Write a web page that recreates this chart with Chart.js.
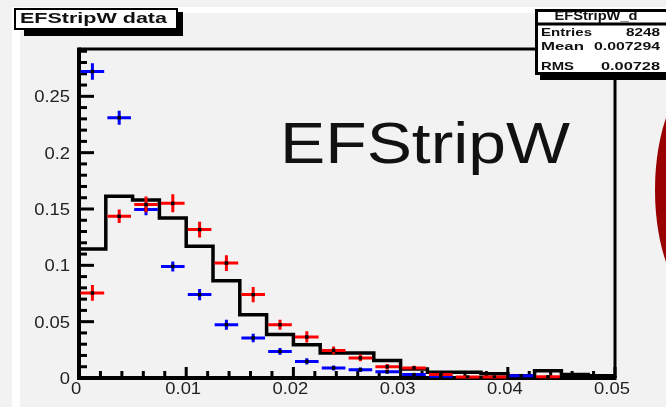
<!DOCTYPE html>
<html lang="en">
<head>
    <meta charset="UTF-8">
    <title>EFStripW</title>
    <script src="https://cdn.jsdelivr.net/npm/chart.js"></script>
    <style>
        body { margin: 0; background: #f2f2f2; }
        canvas { display: block; }
    </style>
</head>
<body>
    <canvas id="histo" width="666" height="407"></canvas>
    <script>
        // bin edges / centres of the 20 bins (width 0.0025)
        const binEdges = [0, 0.0025, 0.005, 0.0075, 0.01, 0.0125, 0.015, 0.0175, 0.02, 0.0225, 0.025,
                          0.0275, 0.03, 0.0325, 0.035, 0.0375, 0.04, 0.0425, 0.045, 0.0475, 0.05];
        const binCenters = [0.00125, 0.00375, 0.00625, 0.00875, 0.01125, 0.01375, 0.01625, 0.01875, 0.02125, 0.02375,
                            0.02625, 0.02875, 0.03125, 0.03375, 0.03625, 0.03875, 0.04125, 0.04375, 0.04625, 0.04875];

        // reference histogram (black steps)
        const refHist = [0.1146, 0.1613, 0.158, 0.142, 0.117, 0.0864, 0.0562, 0.0385, 0.0296, 0.0222,
                         0.0222, 0.0155, 0.008, 0.005, 0.005, 0.0038, 0.002, 0.0065, 0.003, 0.002];

        // blue points + errors
        const blueVals = [0.272, 0.231, 0.1495, 0.099, 0.074, 0.0473, 0.0355, 0.0236, 0.0147, 0.0089,
                          0.0074, 0.0056, 0.003, 0.0015, null, null, 0.002, null, null, null];
        const blueErr = [0.0074, 0.0062, 0.005, 0.0044, 0.005, 0.0045, 0.0038, 0.003, 0.0028, 0.0022,
                         0.002, 0.0018, 0.0015, 0.001, null, null, 0.001, null, null, null];

        // red points + errors
        const redVals = [0.0755, 0.1435, 0.154, 0.155, 0.1317, 0.102, 0.074, 0.0473, 0.0364, 0.0245,
                         0.0178, 0.010, 0.0089, 0.003, 0.0008, 0.0008, null, 0.001, null, null];
        const redErr = [0.007, 0.006, 0.007, 0.008, 0.007, 0.007, 0.0067, 0.0045, 0.005, 0.0035,
                        0.003, 0.0025, 0.002, 0.0015, 0.001, 0.001, null, 0.001, null, null];

        const halfBin = 0.0011; // drawn horizontal error

        const xTicks = [0, 0.01, 0.02, 0.03, 0.04, 0.05];
        const xTickLabels = ['0', '0.01', '0.02', '0.03', '0.04', '0.05'];
        const yTicks = [0, 0.05, 0.1, 0.15, 0.2, 0.25];
        const yTickLabels = ['0', '0.05', '0.1', '0.15', '0.2', '0.25'];

        const statsRows = [['Entries', '8248'], ['Mean', '0.007294'], ['RMS', '0.00728']];

        // draw text squeezed/stretched to a given width (the screenshot is wide)
        function fitText(ctx, txt, x, y, w, font, color, align) {
            ctx.save();
            ctx.font = font;
            ctx.fillStyle = color;
            ctx.textAlign = 'left';
            ctx.textBaseline = 'alphabetic';
            const m = ctx.measureText(txt).width;
            let left = x;
            if (align === 'center') left = x - w / 2;
            if (align === 'right') left = x - w;
            ctx.translate(left, y);
            ctx.scale(w / m, 1);
            ctx.fillText(txt, 0, 0);
            ctx.restore();
        }

        function stretchText(ctx, txt, x, y, font, sx, align) {
            ctx.save();
            ctx.font = font;
            const w = ctx.measureText(txt).width * sx;
            fitText(ctx, txt, x, y, w, font, '#222', align);
            ctx.restore();
        }

        const rootPlugin = {
            id: 'rootStyle',
            beforeDraw(chart) {
                const ctx = chart.ctx;
                ctx.save();
                ctx.fillStyle = '#f2f2f2';
                ctx.fillRect(0, 0, 666, 407);
                // white strips of the slide
                ctx.fillStyle = '#ffffff';
                ctx.fillRect(12, 7, 8, 400);
                ctx.fillRect(12, 7, 654, 6);
                // red decoration on the right edge
                ctx.fillStyle = '#990000';
                ctx.beginPath();
                ctx.ellipse(700, 190, 45, 110, 0, 0, Math.PI * 2);
                ctx.fill();
                ctx.restore();
                // big label
                fitText(ctx, 'EFStripW', 280, 163, 290, '57px "Liberation Sans", Arial, sans-serif', '#111', 'left');
            },
            beforeDatasetsDraw(chart) {
                const ctx = chart.ctx;
                const xs = chart.scales.x, ys = chart.scales.y;
                const a = chart.chartArea;
                ctx.save();
                ctx.strokeStyle = '#000';
                ctx.lineCap = 'butt';
                // frame top + right
                ctx.lineWidth = 3;
                ctx.beginPath();
                ctx.moveTo(a.left, a.top);
                ctx.lineTo(a.right, a.top);
                ctx.lineTo(a.right, a.bottom);
                ctx.stroke();
                // axes
                ctx.lineWidth = 4;
                ctx.beginPath();
                ctx.moveTo(a.left, a.top - 1.5);
                ctx.lineTo(a.left, a.bottom);
                ctx.lineTo(a.right + 1.5, a.bottom);
                ctx.stroke();
                // y ticks (inside)
                ctx.lineWidth = 3;
                for (let i = 0; i <= 29; i++) {
                    const v = i * 0.01;
                    const py = ys.getPixelForValue(v);
                    const len = (i % 5 === 0) ? 15 : 8;
                    ctx.beginPath();
                    ctx.moveTo(a.left, py);
                    ctx.lineTo(a.left + len, py);
                    ctx.stroke();
                }
                // x ticks (upwards)
                for (let i = 0; i <= 25; i++) {
                    const v = i * 0.002;
                    const px = xs.getPixelForValue(v);
                    const len = (i % 5 === 0) ? 11 : 7;
                    ctx.beginPath();
                    ctx.moveTo(px, a.bottom);
                    ctx.lineTo(px, a.bottom - len);
                    ctx.stroke();
                }
                ctx.restore();
                const tickFont = '16px "Liberation Sans", Arial, sans-serif';
                yTicks.forEach((v, i) => {
                    stretchText(ctx, yTickLabels[i], a.left - 9, ys.getPixelForValue(v) + 6, tickFont, 1.15, 'right');
                });
                xTicks.forEach((v, i) => {
                    stretchText(ctx, xTickLabels[i], xs.getPixelForValue(v) - 3, 394, tickFont, 1.15, 'center');
                });
            },
            beforeDatasetDraw(chart, args) {
                const ds = chart.data.datasets[args.index];
                if (!ds.errY) return;
                const ctx = chart.ctx;
                const xs = chart.scales.x, ys = chart.scales.y;
                ctx.save();
                ctx.strokeStyle = ds.barColor;
                ctx.lineWidth = 3;
                ds.data.forEach((p, i) => {
                    if (p.y === null) return;
                    const px = xs.getPixelForValue(p.x), py = ys.getPixelForValue(p.y);
                    ctx.beginPath();
                    ctx.moveTo(xs.getPixelForValue(p.x - halfBin), py);
                    ctx.lineTo(xs.getPixelForValue(p.x + halfBin), py);
                    const e = ds.errY[i];
                    if (e) {
                        ctx.moveTo(px, ys.getPixelForValue(p.y + e));
                        ctx.lineTo(px, ys.getPixelForValue(p.y - e));
                    }
                    ctx.stroke();
                });
                ctx.restore();
            },
            afterDraw(chart) {
                const ctx = chart.ctx;
                const bold = (s) => 'bold ' + s + 'px "Liberation Sans", Arial, sans-serif';
                ctx.save();
                // title box with shadow
                ctx.fillStyle = '#000';
                ctx.fillRect(24, 12, 159, 24);
                ctx.fillStyle = '#fff';
                ctx.fillRect(14, 8, 164, 22);
                ctx.strokeStyle = '#000';
                ctx.lineWidth = 2;
                ctx.strokeRect(15, 9, 162, 20);
                // stats box
                ctx.fillStyle = '#000';
                ctx.fillRect(540, 70, 130, 10);
                ctx.fillStyle = '#fff';
                ctx.fillRect(535, 9, 140, 65);
                ctx.lineWidth = 3;
                ctx.strokeRect(536.5, 10.5, 140, 63);
                ctx.beginPath();
                ctx.moveTo(536, 24);
                ctx.lineTo(666, 24);
                ctx.stroke();
                ctx.restore();
                fitText(ctx, 'EFStripW data', 20, 23, 147, bold(15), '#111', 'left');
                fitText(ctx, 'EFStripW_d', 596, 20, 83, bold(12), '#111', 'center');
                const rowY = [36, 50, 70];
                const labW = [51, 43, 33];
                const valW = [34, 66, 59];
                statsRows.forEach((r, i) => {
                    fitText(ctx, r[0], 541, rowY[i], labW[i], bold(11), '#111', 'left');
                    fitText(ctx, r[1], 660, rowY[i], valW[i], bold(11), '#111', 'right');
                });
            }
        };

        // stepped 'before': the value of each edge is held until the next edge
        const histPoints = binEdges.map((x, i) => ({ x: x, y: refHist[Math.min(i, refHist.length - 1)] }));
        const bluePoints = binCenters.map((x, i) => ({ x: x, y: blueVals[i] }));
        const redPoints = binCenters.map((x, i) => ({ x: x, y: redVals[i] }));

        new Chart(document.getElementById('histo'), {
            type: 'scatter',
            data: {
                datasets: [
                    {
                        label: 'EFStripW_d',
                        data: histPoints,
                        showLine: true,
                        stepped: 'before',
                        borderColor: '#000',
                        borderWidth: 3.5,
                        pointRadius: 0,
                        fill: false,
                        order: 3
                    },
                    {
                        label: 'blue',
                        data: bluePoints,
                        errY: blueErr,
                        barColor: '#0000ff',
                        pointStyle: 'rect',
                        pointRadius: 2.5,
                        backgroundColor: '#000',
                        borderWidth: 0,
                        order: 2
                    },
                    {
                        label: 'red',
                        data: redPoints,
                        errY: redErr,
                        barColor: '#ff0000',
                        pointStyle: 'rect',
                        pointRadius: 2.5,
                        backgroundColor: '#000',
                        borderWidth: 0,
                        order: 1
                    }
                ]
            },
            options: {
                responsive: false,
                animation: false,
                devicePixelRatio: 1,
                layout: { padding: { left: 79, right: 51, top: 49, bottom: 29 } },
                plugins: { legend: { display: false }, tooltip: { enabled: false } },
                scales: {
                    x: { type: 'linear', min: 0, max: 0.05, display: false },
                    y: { type: 'linear', min: 0, max: 0.292, display: false }
                }
            },
            plugins: [rootPlugin]
        });
    </script>
</body>
</html>
